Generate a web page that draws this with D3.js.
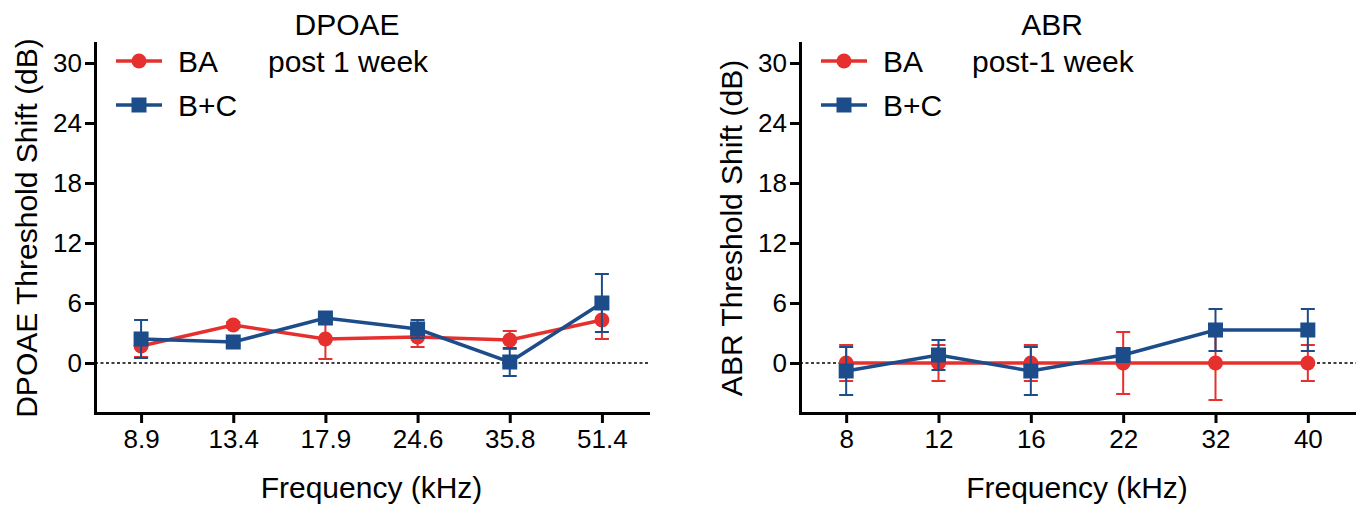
<body style="margin:0;background:#fff">
<div id="chart"></div>
<script src="https://cdn.jsdelivr.net/npm/d3@7"></script>
<script>
    // values (dB threshold shift, mean and error)
    const dpoaeFreqs = ["8.9", "13.4", "17.9", "24.6", "35.8", "51.4"];
    const dpoaeBA = [1.7, 3.8, 2.4, 2.6, 2.3, 4.3];
    const dpoaeBAErr = [1.1, 0.3, 2.0, 1.0, 0.9, 1.9];
    const dpoaeBC = [2.4, 2.1, 4.5, 3.4, 0.1, 6.0];
    const dpoaeBCErr = [1.9, 0.3, 0.3, 0.9, 1.4, 2.9];

    const abrFreqs = ["8", "12", "16", "22", "32", "40"];
    const abrBA = [0, 0, 0, 0, 0, 0];
    const abrBAErr = [1.8, 1.8, 1.8, 3.1, 3.7, 1.8];
    const abrBC = [-0.8, 0.8, -0.8, 0.8, 3.3, 3.3];
    const abrBCErr = [2.4, 1.5, 2.4, 0.7, 2.1, 2.1];

    const yTicks = [0, 6, 12, 18, 24, 30];
    const seriesNames = ["BA", "B+C"];

    const red = "#e5302d";
    const blue = "#1c4d8a";
    const font = "'Liberation Sans', Arial, sans-serif";

    const svg = d3.select("#chart")
        .append("svg")
        .attr("width", 1361)
        .attr("height", 506);

    function drawPanel(p) {
        const x = d3.scalePoint()
            .domain(p.freqs)
            .range([p.left, p.right])
            .padding(0.5);

        const y = d3.scaleLinear()
            .domain([-5, 32])
            .range([413, 43]);

        const g = svg.append("g");

        // dotted zero line
        g.append("line")
            .attr("x1", p.left).attr("x2", p.right + 2)
            .attr("y1", y(0)).attr("y2", y(0))
            .attr("stroke", "#000")
            .attr("stroke-width", 1.6)
            .attr("stroke-dasharray", "3,2.5");

        const series = [
            { name: seriesNames[0], values: p.ba, err: p.baErr, color: red, shape: "circle" },
            { name: seriesNames[1], values: p.bc, err: p.bcErr, color: blue, shape: "square" }
        ];

        series.forEach(s => {
            const pts = p.freqs.map((f, i) => ({ f: f, v: s.values[i], e: s.err[i] }));

            const eb = g.append("g")
                .attr("stroke", s.color)
                .attr("stroke-width", 2);
            eb.selectAll(".stem").data(pts).enter().append("line")
                .attr("x1", d => x(d.f)).attr("x2", d => x(d.f))
                .attr("y1", d => y(d.v + d.e)).attr("y2", d => y(d.v - d.e));
            eb.selectAll(".capTop").data(pts).enter().append("line")
                .attr("x1", d => x(d.f) - 7).attr("x2", d => x(d.f) + 7)
                .attr("y1", d => y(d.v + d.e)).attr("y2", d => y(d.v + d.e));
            eb.selectAll(".capBot").data(pts).enter().append("line")
                .attr("x1", d => x(d.f) - 7).attr("x2", d => x(d.f) + 7)
                .attr("y1", d => y(d.v - d.e)).attr("y2", d => y(d.v - d.e));

            g.append("path")
                .datum(pts)
                .attr("fill", "none")
                .attr("stroke", s.color)
                .attr("stroke-width", 3.5)
                .attr("d", d3.line().x(d => x(d.f)).y(d => y(d.v)));

            if (s.shape === "circle") {
                g.selectAll(null).data(pts).enter().append("circle")
                    .attr("cx", d => x(d.f)).attr("cy", d => y(d.v))
                    .attr("r", 7.5)
                    .attr("fill", s.color);
            } else {
                g.selectAll(null).data(pts).enter().append("rect")
                    .attr("x", d => x(d.f) - 7.5).attr("y", d => y(d.v) - 7.5)
                    .attr("width", 15).attr("height", 15)
                    .attr("fill", s.color);
            }
        });

        // axes
        const yAxis = g.append("g")
            .attr("transform", `translate(${p.left},0)`)
            .call(d3.axisLeft(y).tickValues(yTicks).tickSize(10).tickSizeOuter(0).tickPadding(3));
        const xAxis = g.append("g")
            .attr("transform", `translate(0,413)`)
            .call(d3.axisBottom(x).tickSize(10).tickSizeOuter(0).tickPadding(7));

        [yAxis, xAxis].forEach(a => {
            a.select(".domain").attr("stroke-width", 3).attr("stroke-linecap", "square");
            a.selectAll(".tick line").attr("stroke-width", 3);
            a.selectAll(".tick text")
                .attr("font-family", font)
                .attr("font-size", 26)
                .attr("fill", "#000");
        });

        // titles
        g.append("text")
            .attr("x", p.titleX).attr("y", 35)
            .attr("text-anchor", "middle")
            .attr("font-family", font).attr("font-size", 30)
            .text(p.title);
        g.append("text")
            .attr("x", p.noteX).attr("y", 72)
            .attr("font-family", font).attr("font-size", 30)
            .text(p.note);

        g.append("text")
            .attr("x", (p.left + p.right) / 2).attr("y", 498)
            .attr("text-anchor", "middle")
            .attr("font-family", font).attr("font-size", 30)
            .text("Frequency (kHz)");
        g.append("text")
            .attr("transform", `translate(${p.left - 58},228) rotate(-90)`)
            .attr("text-anchor", "middle")
            .attr("font-family", font).attr("font-size", 30)
            .text(p.yLabel);

        // legend
        series.forEach((s, i) => {
            const ly = 61 + i * 44;
            const lx = p.left + 21;
            g.append("line")
                .attr("x1", lx).attr("x2", lx + 46)
                .attr("y1", ly).attr("y2", ly)
                .attr("stroke", s.color).attr("stroke-width", 3.5);
            if (s.shape === "circle") {
                g.append("circle").attr("cx", lx + 23).attr("cy", ly).attr("r", 7.5).attr("fill", s.color);
            } else {
                g.append("rect").attr("x", lx + 15.5).attr("y", ly - 7.5).attr("width", 15).attr("height", 15).attr("fill", s.color);
            }
            g.append("text")
                .attr("x", lx + 62).attr("y", ly + 11)
                .attr("font-family", font).attr("font-size", 30)
                .text(s.name);
        });
    }

    drawPanel({
        freqs: dpoaeFreqs, ba: dpoaeBA, baErr: dpoaeBAErr, bc: dpoaeBC, bcErr: dpoaeBCErr,
        left: 95, right: 648, title: "DPOAE", titleX: 347, note: "post 1 week", noteX: 268,
        yLabel: "DPOAE Threshold Shift (dB)"
    });

    drawPanel({
        freqs: abrFreqs, ba: abrBA, baErr: abrBAErr, bc: abrBC, bcErr: abrBCErr,
        left: 800, right: 1354, title: "ABR", titleX: 1052, note: "post-1 week", noteX: 972,
        yLabel: "ABR Threshold Shift (dB)"
    });
</script>
</body>
